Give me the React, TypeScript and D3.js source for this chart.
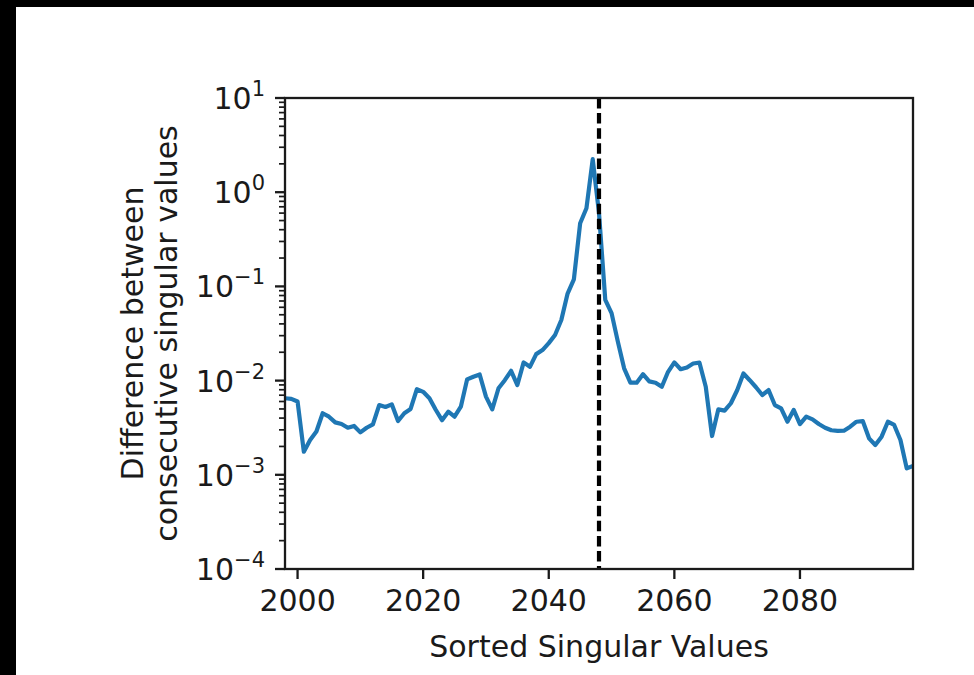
import React from "react";
import * as d3 from "d3";

// sorted singular value index of the first difference
const firstIndex = 1998;

// difference between consecutive singular values
const diffs = [
  6.5e-3, 6.4e-3, 6.0e-3, 1.76e-3, 2.34e-3, 2.88e-3, 4.5e-3, 4.14e-3, 3.6e-3, 3.46e-3,
  3.16e-3, 3.3e-3, 2.82e-3, 3.16e-3, 3.43e-3, 5.5e-3, 5.25e-3, 5.6e-3, 3.72e-3, 4.5e-3,
  5.0e-3, 8.1e-3, 7.6e-3, 6.5e-3, 4.9e-3, 3.8e-3, 4.68e-3, 4.14e-3, 5.28e-3, 1.03e-2,
  1.1e-2, 1.16e-2, 6.76e-3, 4.95e-3, 8.3e-3, 1.01e-2, 1.27e-2, 8.97e-3, 1.56e-2, 1.4e-2,
  1.91e-2, 2.11e-2, 2.5e-2, 3.05e-2, 4.4e-2, 8.4e-2, 1.19e-1, 4.68e-1, 6.75e-1, 2.24,
  0.6, 7.18e-2, 5.2e-2, 2.59e-2, 1.35e-2, 9.5e-3, 9.5e-3, 1.17e-2, 9.8e-3, 9.5e-3,
  8.6e-3, 1.24e-2, 1.56e-2, 1.32e-2, 1.38e-2, 1.52e-2, 1.55e-2, 8.6e-3, 2.58e-3, 4.95e-3,
  4.8e-3, 5.75e-3, 7.9e-3, 1.19e-2, 1.01e-2, 8.5e-3, 7.03e-3, 7.94e-3, 5.5e-3, 5.08e-3,
  3.66e-3, 4.88e-3, 3.46e-3, 4.14e-3, 3.88e-3, 3.46e-3, 3.16e-3, 2.97e-3, 2.92e-3, 2.94e-3,
  3.24e-3, 3.66e-3, 3.72e-3, 2.44e-3, 2.07e-3, 2.54e-3, 3.66e-3, 3.38e-3, 2.34e-3, 1.17e-3,
  1.24e-3,
];

const xTicks = [2000, 2020, 2040, 2060, 2080];
const yExponents = [1, 0, -1, -2, -3, -4];
const cutoff = 2048;

const xLabel = "Sorted Singular Values";
const yLabelLines = ["Difference between", "consecutive singular values"];

const W = 974;
const H = 675;
const left = 285;
const right = 913;
const top = 98;
const bottom = 569;
const fontSize = 30;
const font = "'DejaVu Sans', sans-serif";
const ink = "#1a1a1a";

export default function App() {
  const x = d3.scaleLinear().domain([1998, 2098]).range([left, right]);
  const y = d3.scaleLog().domain([1e-4, 10]).range([bottom, top]);

  const line = d3
    .line<number>()
    .x((_, i) => x(firstIndex + i))
    .y((d) => y(d));

  // minor ticks 2..9 inside each decade
  const minor: number[] = [];
  for (let e = -4; e < 1; e++) {
    for (let m = 2; m <= 9; m++) minor.push(m * Math.pow(10, e));
  }

  const majorLen = 10;
  const minorLen = 6;

  return (
    <div style={{ position: "absolute", left: 0, top: 0 }}>
      <svg width={W} height={H} style={{ display: "block", background: "#fff" }}>
        <rect x={0} y={0} width={W} height={7} fill="#000" />
        <rect x={0} y={0} width={16} height={H} fill="#000" />

        <defs>
          <clipPath id="plotClip">
            <rect x={left} y={top} width={right - left} height={bottom - top} />
          </clipPath>
        </defs>

        <g clipPath="url(#plotClip)">
          <path d={line(diffs) ?? ""} fill="none" stroke="#1f77b4" strokeWidth={4.2} strokeLinejoin="round" />
          <line
            x1={x(cutoff)}
            x2={x(cutoff)}
            y1={top}
            y2={bottom}
            stroke="#000"
            strokeWidth={4.2}
            strokeDasharray="10.5 4.6"
          />
        </g>

        {/* y minor ticks */}
        {minor.map((v) => (
          <line key={`m${v}`} x1={left - minorLen} x2={left} y1={y(v)} y2={y(v)} stroke={ink} strokeWidth={1.7} />
        ))}

        {/* y major ticks + labels */}
        {yExponents.map((e) => {
          const yy = y(Math.pow(10, e));
          return (
            <g key={`y${e}`}>
              <line x1={left - majorLen} x2={left} y1={yy} y2={yy} stroke={ink} strokeWidth={2.3} />
              <text
                x={left - majorLen - 10}
                y={yy + 11}
                textAnchor="end"
                fontFamily={font}
                fontSize={fontSize}
                fill={ink}
              >
                10
                <tspan fontSize={fontSize * 0.7} dy={-13}>
                  {e < 0 ? `\u2212${-e}` : `${e}`}
                </tspan>
              </text>
            </g>
          );
        })}

        {/* x ticks + labels */}
        {xTicks.map((t) => (
          <g key={`x${t}`}>
            <line x1={x(t)} x2={x(t)} y1={bottom} y2={bottom + majorLen} stroke={ink} strokeWidth={2.3} />
            <text
              x={x(t)}
              y={bottom + majorLen + 10 + 22}
              textAnchor="middle"
              fontFamily={font}
              fontSize={fontSize}
              fill={ink}
            >
              {t}
            </text>
          </g>
        ))}

        {/* frame */}
        <rect
          x={left}
          y={top}
          width={right - left}
          height={bottom - top}
          fill="none"
          stroke={ink}
          strokeWidth={2.3}
        />

        <text
          x={(left + right) / 2}
          y={657}
          textAnchor="middle"
          fontFamily={font}
          fontSize={fontSize}
          fill={ink}
        >
          {xLabel}
        </text>

        {yLabelLines.map((s, i) => (
          <text
            key={s}
            transform={`translate(${143 + i * 34},${(top + bottom) / 2}) rotate(-90)`}
            textAnchor="middle"
            fontFamily={font}
            fontSize={fontSize}
            fill={ink}
          >
            {s}
          </text>
        ))}
      </svg>
    </div>
  );
}
